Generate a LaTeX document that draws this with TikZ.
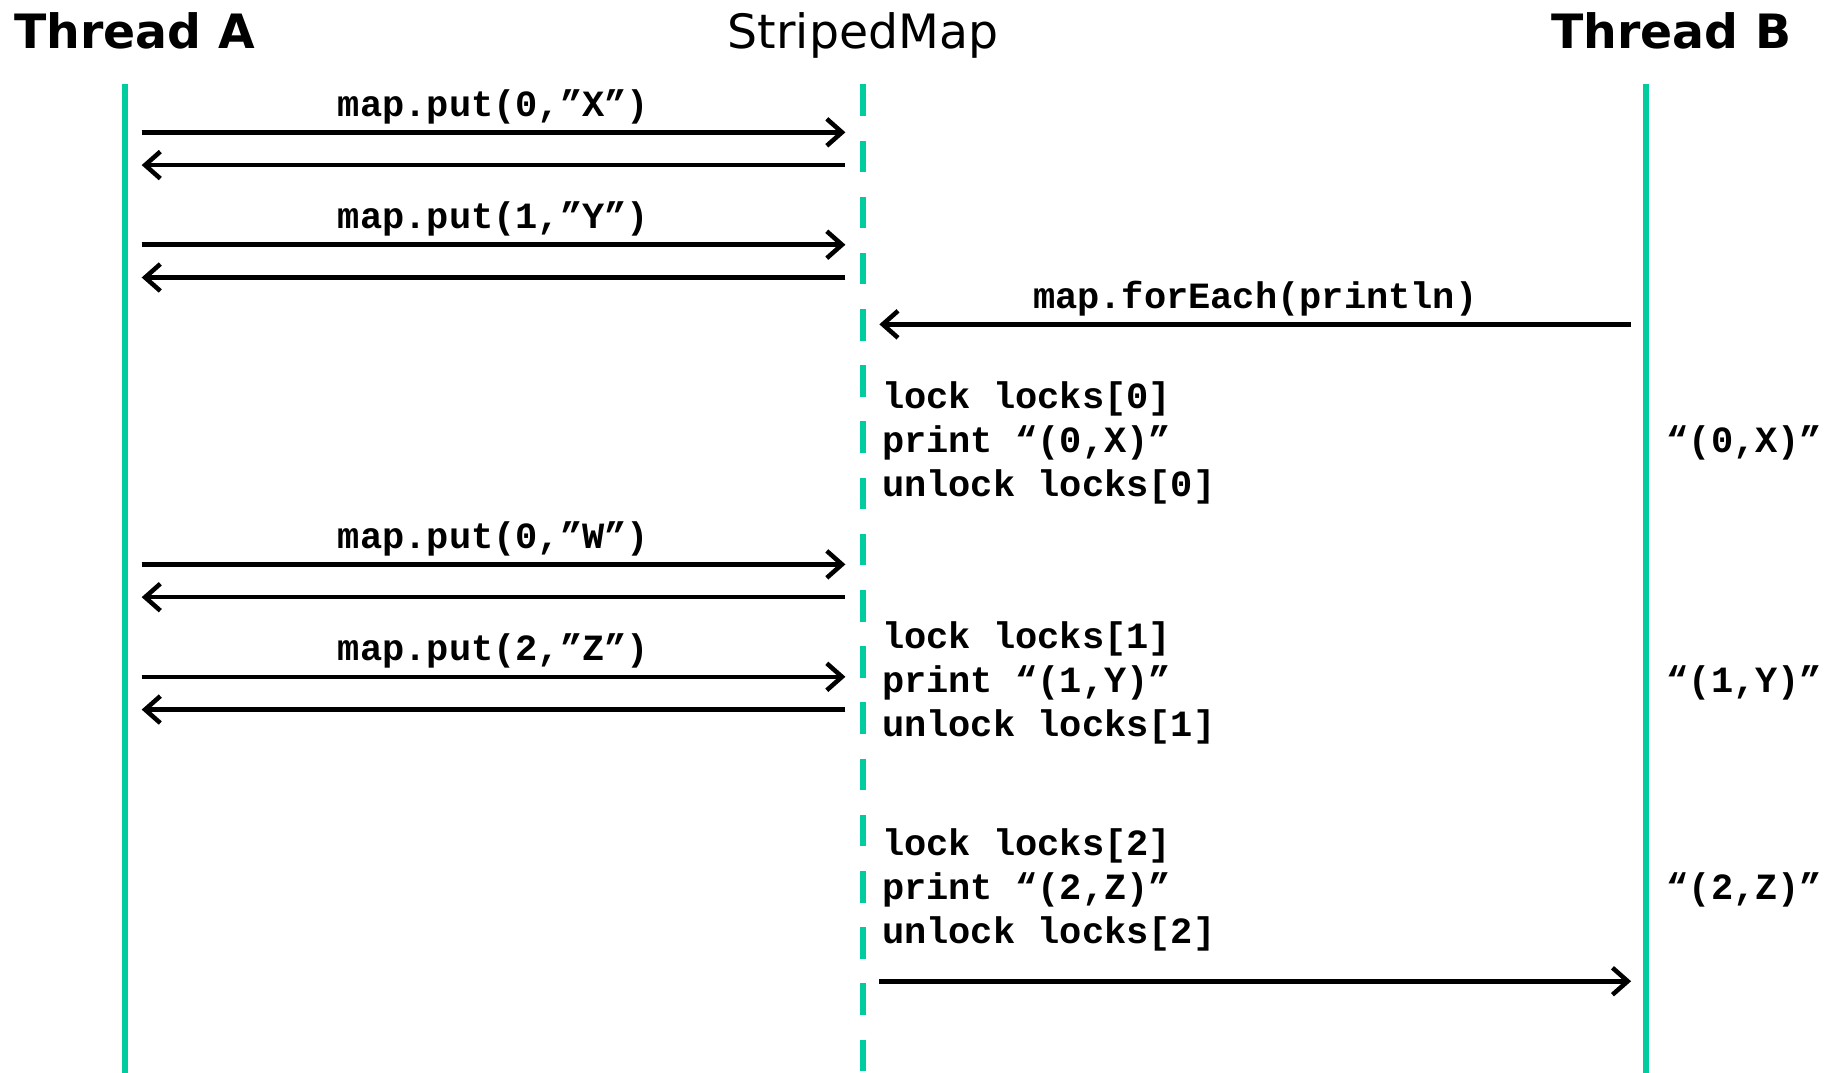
\documentclass[tikz,border=0pt]{standalone}
\usepackage{fontspec}
\setmonofont{Liberation Mono}
\newfontfamily\hdfont{DejaVu Sans}
\usetikzlibrary{arrows.meta}
\usetikzlibrary{positioning}
\definecolor{lifegreen}{RGB}{0,204,160}
\newcommand{\codefont}{\ttfamily\bfseries\fontsize{18}{21.3}\selectfont}

\begin{document}
\begin{tikzpicture}[
					x=0.02cm, y=-0.02cm,
					life/.style={line width=3pt, lifegreen},
					call/.style={line width=2.2pt, -{Straight Barb[length=2.6mm, width=4.6mm]}},
					msg/.style={font=\codefont, above, inner sep=3pt},
					code/.style={font=\codefont, align=left, anchor=west, inner sep=0pt},
					head/.style={font=\hdfont\fontsize{23}{28}\selectfont, inner sep=0pt},
				]
					\useasboundingbox (0,0) rectangle (1568,916);
					
					\node (ha) [head, anchor=base west] at (12,41) {\bfseries Thread A};
					\node (hm) [head, anchor=base] at (737,41) {StripedMap};
					\node (hb) [head, anchor=base east] at (1530,41) {\bfseries Thread B};
					
					\coordinate (ta) at (107,72);
					\coordinate (sm) at (737,72);
					\coordinate (tb) at (1406,72);
					\coordinate (floor) at (0,916);
					
					\draw[life] (ta) -- (ta |- floor);
					\draw[life, dash pattern=on 0.54cm off 0.42cm] (sm) -- (sm |- floor);
					\draw[life] (tb) -- (tb |- floor);
					
					\coordinate (aL) at (121,0);
					\coordinate (mL) at (722,0);
					\coordinate (mR) at (751,0);
					\coordinate (bR) at (1393,0);
					\coordinate (oB) at (1423,0);
					
					\coordinate (sendx) at (0,113);
					\coordinate (retx) at (0,141);
					\coordinate (sendy) at (0,209);
					\coordinate (rety) at (0,237);
					\coordinate (each) at (0,277);
					\coordinate (sendw) at (0,482);
					\coordinate (retw) at (0,510);
					\coordinate (sendz) at (0,578);
					\coordinate (retz) at (0,606);
					\coordinate (done) at (0,838);
					
					\node (blk0) [code] at (753,378) {lock locks[0]\\print “(0,X)”\\unlock locks[0]};
					\node (blk1) [code] at (753,583) {lock locks[1]\\print “(1,Y)”\\unlock locks[1]};
					\node (blk2) [code] at (753,760) {lock locks[2]\\print “(2,Z)”\\unlock locks[2]};
					
					\node (out0) [code] at (oB |- blk0) {“(0,X)”};
					\node (out1) [code] at (oB |- blk1) {“(1,Y)”};
					\node (out2) [code] at (oB |- blk2) {“(2,Z)”};
					
					\draw[call] (aL |- sendx) -- node[msg] (putx) {map.put(0,”X”)} (mL |- sendx);
					\draw[call] (mL |- retx) -- (aL |- retx);
					\draw[call] (aL |- sendy) -- node[msg] (puty) {map.put(1,”Y”)} (mL |- sendy);
					\draw[call] (mL |- rety) -- (aL |- rety);
					\draw[call] (bR |- each) -- node[msg] (fe) {map.forEach(println)} (mR |- each);
					\draw[call] (aL |- sendw) -- node[msg] (putw) {map.put(0,”W”)} (mL |- sendw);
					\draw[call] (mL |- retw) -- (aL |- retw);
					\draw[call] (aL |- sendz) -- node[msg] (putz) {map.put(2,”Z”)} (mL |- sendz);
					\draw[call] (mL |- retz) -- (aL |- retz);
					\draw[call] (mR |- done) -- (bR |- done);
				\end{tikzpicture}
\end{document}
